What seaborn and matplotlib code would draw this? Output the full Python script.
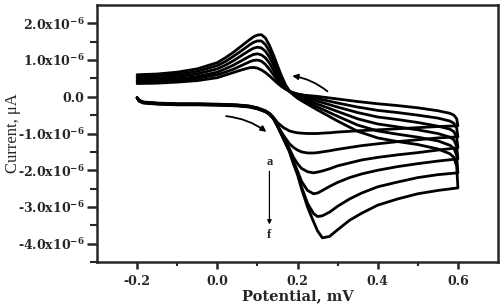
import numpy as np
import pandas as pd
import matplotlib
matplotlib.use("Agg")
import matplotlib.pyplot as plt
import seaborn as sns

# ---- data (current in units of 1e-6 A) ----
curve_names = ["a", "b", "c", "d", "e", "f"]

x_fwd = [-0.2, -0.195, -0.185, -0.15, -0.1, -0.05, 0.0, 0.05, 0.08, 0.1, 0.12, 0.13,
         0.14, 0.15, 0.165, 0.18, 0.19, 0.2, 0.21, 0.225, 0.24, 0.25, 0.262, 0.28,
         0.3, 0.33, 0.36, 0.4, 0.45, 0.5, 0.55, 0.6]

fwd_a = [-0.02, -0.09, -0.14, -0.17, -0.19, -0.19, -0.2, -0.22, -0.25, -0.3, -0.38, -0.45,
         -0.56, -0.7, -0.84, -0.93, -0.96, -0.98, -0.99, -1.0, -1.0, -1.0, -0.99, -0.98,
         -0.96, -0.94, -0.92, -0.9, -0.87, -0.84, -0.81, -0.79]
fwd_b = [-0.02, -0.1, -0.15, -0.18, -0.2, -0.2, -0.21, -0.23, -0.26, -0.31, -0.39, -0.46,
         -0.58, -0.78, -1.05, -1.28, -1.38, -1.45, -1.5, -1.53, -1.53, -1.52, -1.5, -1.47,
         -1.43, -1.38, -1.33, -1.28, -1.22, -1.17, -1.12, -1.09]
fwd_c = [-0.03, -0.1, -0.15, -0.18, -0.2, -0.2, -0.21, -0.23, -0.26, -0.31, -0.39, -0.46,
         -0.58, -0.79, -1.1, -1.42, -1.65, -1.82, -1.95, -2.04, -2.07, -2.05, -2.02, -1.96,
         -1.88, -1.8, -1.72, -1.65, -1.58, -1.52, -1.45, -1.39]
fwd_d = [-0.03, -0.11, -0.16, -0.19, -0.21, -0.21, -0.22, -0.24, -0.27, -0.32, -0.4, -0.47,
         -0.59, -0.79, -1.12, -1.46, -1.76, -2.02, -2.3, -2.55, -2.64, -2.62, -2.55, -2.44,
         -2.33, -2.2, -2.1, -2.0, -1.9, -1.82, -1.75, -1.69]
fwd_e = [-0.03, -0.11, -0.16, -0.19, -0.21, -0.21, -0.22, -0.24, -0.27, -0.32, -0.4, -0.47,
         -0.59, -0.79, -1.13, -1.48, -1.8, -2.08, -2.45, -2.9, -3.18, -3.26, -3.24, -3.14,
         -2.98, -2.78, -2.62, -2.45, -2.32, -2.2, -2.12, -2.07]
fwd_f = [-0.03, -0.12, -0.17, -0.2, -0.22, -0.22, -0.23, -0.25, -0.28, -0.33, -0.41, -0.48,
         -0.6, -0.8, -1.15, -1.5, -1.83, -2.12, -2.5, -3.0, -3.4, -3.65, -3.84, -3.8,
         -3.62, -3.36, -3.17, -2.95, -2.78, -2.64, -2.55, -2.48]

x_rev = [0.6, 0.597, 0.59, 0.58, 0.55, 0.5, 0.45, 0.4, 0.35, 0.3, 0.25, 0.22, 0.2, 0.19,
         0.18, 0.17, 0.16, 0.15, 0.14, 0.13, 0.12, 0.11, 0.1, 0.09, 0.08, 0.06, 0.04,
         0.02, 0.0, -0.05, -0.1, -0.15, -0.2]

rev_a = [-0.79, -0.6, -0.5, -0.45, -0.38, -0.3, -0.24, -0.19, -0.13, -0.06, 0.01, 0.04,
         0.06, 0.1, 0.15, 0.21, 0.28, 0.37, 0.47, 0.57, 0.66, 0.73, 0.78, 0.8, 0.79,
         0.73, 0.66, 0.59, 0.52, 0.44, 0.4, 0.37, 0.36]
rev_b = [-1.09, -0.85, -0.72, -0.66, -0.58, -0.5, -0.43, -0.37, -0.28, -0.17, -0.05, 0.03,
         0.08, 0.11, 0.15, 0.22, 0.32, 0.45, 0.6, 0.75, 0.88, 0.97, 1.0, 0.99, 0.95,
         0.85, 0.75, 0.67, 0.6, 0.5, 0.44, 0.41, 0.4]
rev_c = [-1.39, -1.1, -0.95, -0.88, -0.8, -0.7, -0.62, -0.55, -0.43, -0.28, -0.12, -0.02,
         0.05, 0.09, 0.15, 0.24, 0.37, 0.54, 0.73, 0.92, 1.06, 1.14, 1.17, 1.15, 1.1,
         0.98, 0.86, 0.76, 0.67, 0.55, 0.49, 0.46, 0.45]
rev_d = [-1.69, -1.35, -1.17, -1.1, -1.0, -0.9, -0.82, -0.74, -0.6, -0.4, -0.2, -0.07,
         0.02, 0.07, 0.15, 0.27, 0.43, 0.64, 0.87, 1.08, 1.24, 1.33, 1.35, 1.32, 1.26,
         1.12, 0.98, 0.86, 0.76, 0.62, 0.55, 0.51, 0.5]
rev_e = [-2.07, -1.6, -1.4, -1.32, -1.2, -1.1, -1.02, -0.93, -0.77, -0.53, -0.28, -0.12,
         -0.01, 0.06, 0.15, 0.3, 0.5, 0.75, 1.0, 1.24, 1.42, 1.52, 1.52, 1.48, 1.41,
         1.25, 1.1, 0.96, 0.85, 0.69, 0.61, 0.57, 0.55]
rev_f = [-2.48, -1.9, -1.65, -1.55, -1.42, -1.3, -1.22, -1.12, -0.94, -0.66, -0.36, -0.17,
         -0.04, 0.05, 0.15, 0.33, 0.57, 0.85, 1.14, 1.4, 1.6, 1.69, 1.68, 1.63, 1.55,
         1.38, 1.21, 1.06, 0.93, 0.76, 0.67, 0.62, 0.6]

y_ticks = [-4.0, -3.0, -2.0, -1.0, 0.0, 1.0, 2.0]
y_tick_labels = [r"-4.0x10$^{-6}$", r"-3.0x10$^{-6}$", r"-2.0x10$^{-6}$", r"-1.0x10$^{-6}$",
                 "0.0", r"1.0x10$^{-6}$", r"2.0x10$^{-6}$"]
x_ticks = [-0.2, 0.0, 0.2, 0.4, 0.6]
x_tick_labels = ["-0.2", "0.0", "0.2", "0.4", "0.6"]

# ---- build long table ----
fwds = [fwd_a, fwd_b, fwd_c, fwd_d, fwd_e, fwd_f]
revs = [rev_a, rev_b, rev_c, rev_d, rev_e, rev_f]
rows = []
for name, fw, rv in zip(curve_names, fwds, revs):
    order = 0
    for xv, yv in zip(x_fwd, fw):
        rows.append((name, order, xv, yv * 1e-6)); order += 1
    for xv, yv in zip(x_rev, rv):
        rows.append((name, order, xv, yv * 1e-6)); order += 1
df = pd.DataFrame(rows, columns=["curve", "order", "potential", "current"])

# ---- style ----
sns.set_style("ticks")
plt.rcParams['font.family'] = ['DejaVu Serif', 'Liberation Serif']
plt.rcParams['font.weight'] = 'bold'
plt.rcParams['mathtext.fontset'] = 'custom'
plt.rcParams['mathtext.rm'] = 'DejaVu Serif:bold'
plt.rcParams['mathtext.it'] = 'DejaVu Serif:bold'
plt.rcParams['mathtext.bf'] = 'DejaVu Serif:bold'

fig = plt.figure(figsize=(5.0, 3.08), dpi=100)
ax = fig.add_axes([0.194, 0.149, 0.802, 0.835])

sns.lineplot(data=df, x="potential", y="current", units="curve", estimator=None,
             sort=False, color="black", linewidth=2.0, ax=ax, legend=False)

ax.set_xlim(-0.3, 0.7)
ax.set_ylim(-4.5e-6, 2.5e-6)
ax.set_xticks(x_ticks)
ax.set_xticklabels(x_tick_labels)
ax.set_yticks([v * 1e-6 for v in y_ticks])
ax.set_yticklabels(y_tick_labels)
ax.set_xticks([-0.1, 0.1, 0.3, 0.5], minor=True)
ax.set_yticks([v * 1e-6 for v in [-4.5, -3.5, -2.5, -1.5, -0.5, 0.5, 1.5]], minor=True)
ax.tick_params(axis='both', which='major', direction='out', length=5, width=1.8,
               labelsize=9, pad=4)
ax.tick_params(axis='both', which='minor', direction='out', length=3, width=1.5)
ax.tick_params(axis='y', which='major', length=7, pad=2)
ax.tick_params(axis='y', which='minor', length=5)
for lab in ax.get_xticklabels() + ax.get_yticklabels():
    lab.set_fontweight('bold')
for sp in ax.spines.values():
    sp.set_linewidth(1.8)
    sp.set_visible(True)

ax.set_xlabel("Potential, mV", fontsize=10.5, fontweight='bold', labelpad=1)
ax.set_ylabel("Current, μA", fontsize=12, fontweight='normal',
              family=['Liberation Serif', 'DejaVu Serif'])
ax.yaxis.set_label_coords(-0.19, 0.5)

# arrows indicating scan direction
ax.annotate("", xy=(0.18, 0.58e-6), xytext=(0.28, 0.1e-6),
            arrowprops=dict(arrowstyle="-|>", color="black", lw=1.3,
                            connectionstyle="arc3,rad=0.15", mutation_scale=8))
ax.annotate("", xy=(0.128, -1.0e-6), xytext=(0.015, -0.52e-6),
            arrowprops=dict(arrowstyle="-|>", color="black", lw=1.3,
                            connectionstyle="arc3,rad=-0.15", mutation_scale=8))
# a -> f
ax.text(0.13, -1.78e-6, "a", ha="center", va="center", fontsize=9, fontweight='bold',
        family=['Liberation Serif'])
ax.text(0.13, -3.76e-6, "f", ha="center", va="center", fontsize=9, fontweight='bold',
        family=['Liberation Serif'])
ax.annotate("", xy=(0.13, -3.55e-6), xytext=(0.13, -1.95e-6),
            arrowprops=dict(arrowstyle="-|>", color="black", lw=0.9, mutation_scale=6))

fig.savefig("out.png", dpi=100)
